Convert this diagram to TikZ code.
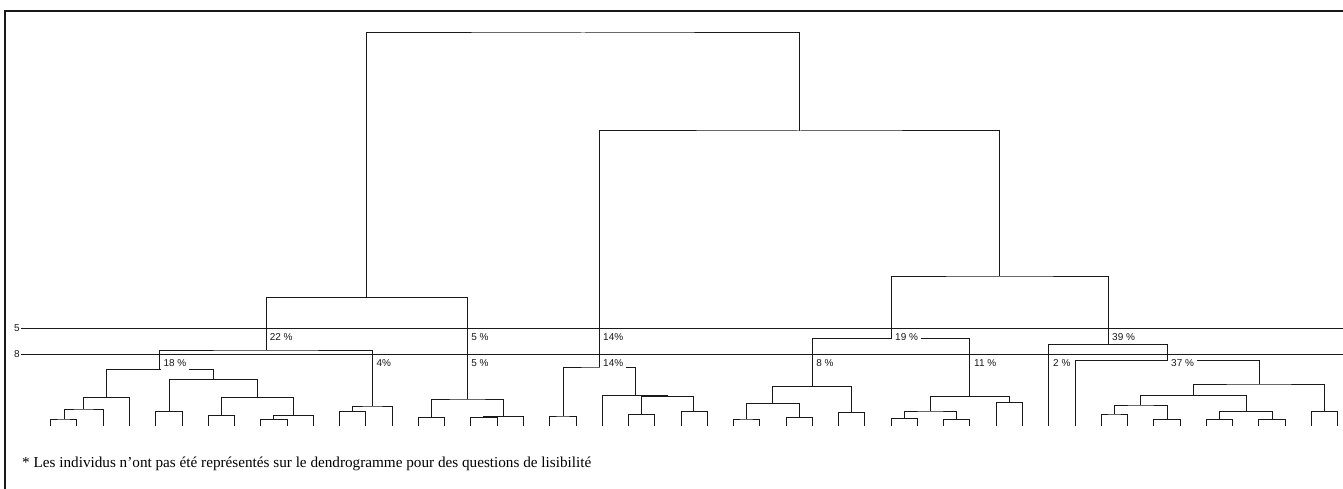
\documentclass[tikz,border=0pt]{standalone}
\usepackage{fontspec}
\setmainfont{Liberation Serif}
\newfontfamily\lsans{Liberation Sans}
\begin{document}
\begin{tikzpicture}[x=1pt,y=-1pt,
  dl/.style={draw=black!90,line width=1pt},
  cut/.style={draw=black!90,line width=1pt},
  pctA/.style={font=\lsans\fontsize{10}{10}\selectfont,fill=white,inner xsep=3pt,inner ysep=0pt,anchor=west,minimum height=13pt,text=black!90},
  pctB/.style={font=\lsans\fontsize{10}{10}\selectfont,fill=white,inner xsep=3pt,inner ysep=0pt,anchor=west,minimum height=14pt,text=black!90},
  cutlbl/.style={font=\lsans\fontsize{10}{10}\selectfont,inner sep=0.5pt,anchor=east,text=black!90}]
\useasboundingbox (0,0) rectangle (1343,489);
% frame (top and left only)
\draw[line width=2pt,black!90] (4.5,489) -- (4.5,11) -- (1343,11);
% leaves
\foreach \i in {1,...,50} {\coordinate (l\i) at ({50.7+26.265*(\i-1)},426);}
% merges: parent / x / y / left child / right child
\foreach \p/\x/\y/\l/\r in {
  a1/64/419/l1/l2, a2/83.3/409/a1/l3, a3/106/397.7/a2/l4,
  a4/169/411.7/l5/l6, a5/221.3/415.7/l7/l8, a6/273.3/419.3/l9/l10,
  a7/293.3/415.7/a6/l11, a8/257.3/397.3/a5/a7, a9/213/379.3/a4/a8,
  n18/159.5/369.3/a3/a9, b1/352.5/411.7/l12/l13, b2/372.3/406/b1/l14,
  n22/266/350/n18/b2, c1/431.7/417.7/l15/l16, c2/483.7/417.7/l17/l18,
  c3/503.5/416.7/c2/l19, n5/467.6/399/c1/c3, L/366.8/297.3/n22/n5,
  d1/563/416/l20/l21, d2/641.3/414.3/l23/l24, d3/693.7/411.7/l25/l26,
  d4/667.5/396.7/d2/d3, d5/635/395.7/l22/d4, n14/599/367/d1/d5,
  e1/746.3/419/l27/l28, e2/799.2/417.3/l29/l30, e3/772.7/403.3/e1/e2,
  e4/851.7/412.3/l31/l32, n8/812.2/386.7/e3/e4,
  f1/904/418.3/l33/l34, f2/956.7/419.3/l35/l36, f3/930.3/411/f1/f2,
  f4/1009.5/402.3/l37/l38, n11/969.9/396.7/f3/f4, n19/891/338.3/n8/n11,
  g1/1114.3/414/l41/l42, g2/1167/419.3/l43/l44, g3/1140.7/405/g1/g2,
  g4/1219.7/419.3/l45/l46, g5/1272.3/419.3/l47/l48, g6/1246/411.7/g4/g5,
  g7/1193.3/395.7/g3/g6, g8/1324.7/411.7/l49/l50, g9/1259/384/g7/g8,
  n37/1167/360.3/l40/g9, n39/1108/344.3/l39/n37,
  R1/999.5/276/n19/n39, R2/799.2/131/n14/R1, Root/583/33/L/R2}
  {\coordinate (\p) at (\x,\y); \draw[dl] (\l) |- (\p) -| (\r);}
% cut lines
\node[cutlbl] (k5) at (20.5,328) {5};
\node[cutlbl] (k8) at (20.5,354) {8};
\coordinate (k5e) at (1343,328);
\coordinate (k8e) at (1343,354);
\draw[cut] (k5.east) -- (k5e);
\draw[cut] (k8.east) -- (k8e);
% percentages on cut 5
\node[pctA] (p22) at (266.6,337) {22 \%};
\node[pctA] (p5a) at (468.2,337) {5 \%};
\node[pctA] (p14a) at (600,337) {14\%};
\node[pctA] (p19) at (892,337) {19 \%};
\node[pctA] (p39) at (1109,337) {39 \%};
% percentages on cut 8
\node[pctB] (p18) at (160.3,363) {18 \%};
\node[pctB] (p4) at (373.3,363) {4\%};
\node[pctB] (p5b) at (468.2,363) {5 \%};
\node[pctB] (p14b) at (600,363) {14\%};
\node[pctB] (p8) at (813.2,363) {8 \%};
\node[pctB] (p11) at (971,363) {11 \%};
\node[pctB] (p2) at (1050,363) {2 \%};
\node[pctB] (p37) at (1168,363) {37 \%};
% footnote
\node[anchor=base west,inner sep=0pt,font=\fontsize{15.2}{18}\selectfont] (note) at (22,467.5)
  {* Les individus n’ont pas été représentés sur le dendrogramme pour des questions de lisibilité};
\end{tikzpicture}
\end{document}
